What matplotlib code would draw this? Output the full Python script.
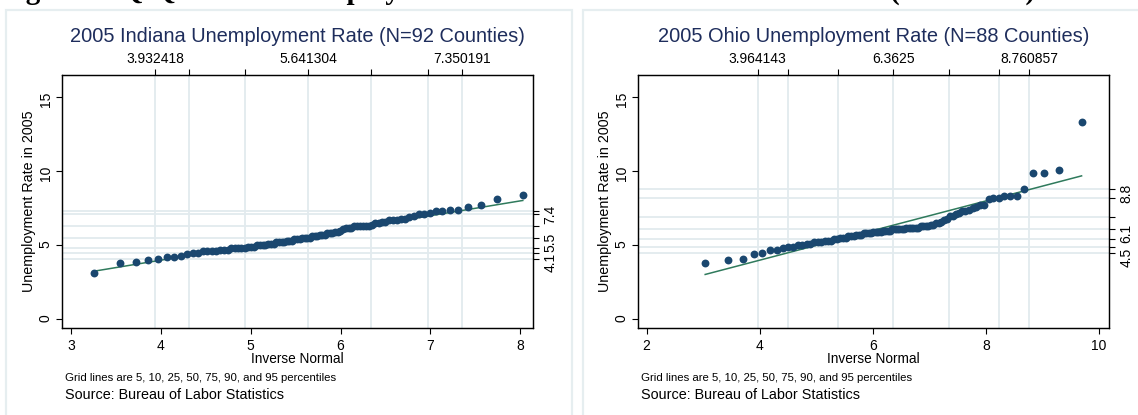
import matplotlib.pyplot as plt
from matplotlib.patches import Rectangle
from statistics import NormalDist

plt.rcParams["font.family"] = ["Liberation Sans", "DejaVu Sans"]

W, H = 1138, 415

# sorted county unemployment rates
indiana_rates = [
    3.1, 3.8, 3.9, 4.0, 4.1, 4.2, 4.2, 4.3, 4.4, 4.5,
    4.5, 4.6, 4.6, 4.6, 4.6, 4.7, 4.7, 4.7, 4.8, 4.8,
    4.8, 4.8, 4.8, 4.9, 4.9, 4.9, 5.0, 5.0, 5.0, 5.0,
    5.1, 5.1, 5.1, 5.2, 5.2, 5.2, 5.2, 5.3, 5.3, 5.3,
    5.4, 5.4, 5.4, 5.5, 5.5, 5.5, 5.5, 5.6, 5.6, 5.6,
    5.7, 5.7, 5.7, 5.8, 5.8, 5.8, 5.9, 5.9, 6.0, 6.1,
    6.2, 6.2, 6.2, 6.3, 6.3, 6.3, 6.3, 6.3, 6.3, 6.4,
    6.5, 6.5, 6.6, 6.6, 6.7, 6.7, 6.7, 6.8, 6.8, 6.9,
    7.0, 7.1, 7.1, 7.2, 7.3, 7.3, 7.4, 7.4, 7.6, 7.7,
    8.1, 8.4,
]
ohio_rates = [
    3.8, 4.0, 4.1, 4.4, 4.5, 4.7, 4.7, 4.8, 4.9, 4.9,
    5.0, 5.0, 5.1, 5.1, 5.2, 5.2, 5.2, 5.3, 5.3, 5.3,
    5.4, 5.4, 5.5, 5.5, 5.5, 5.6, 5.6, 5.6, 5.7, 5.7,
    5.7, 5.8, 5.8, 5.8, 5.8, 5.9, 5.9, 5.9, 5.9, 6.0,
    6.0, 6.0, 6.0, 6.1, 6.1, 6.1, 6.1, 6.1, 6.1, 6.2,
    6.2, 6.2, 6.2, 6.2, 6.2, 6.3, 6.3, 6.3, 6.3, 6.4,
    6.4, 6.5, 6.5, 6.6, 6.7, 6.8, 7.0, 7.0, 7.1, 7.2,
    7.3, 7.3, 7.4, 7.5, 7.6, 7.7, 7.7, 8.1, 8.2, 8.2,
    8.3, 8.3, 8.3, 8.8, 9.9, 9.9, 10.1, 13.3,
]

# mean / sd behind the inverse normal axis (from the top axis labels)
indiana_mean, indiana_sd = 5.641304, 1.038929
ohio_mean, ohio_sd = 6.3625, 1.458098

percentiles = [5, 10, 25, 50, 75, 90, 95]
# horizontal grid lines = sample percentiles
indiana_pctl = [4.1, 4.5, 4.85, 5.5, 6.3, 7.15, 7.35]
ohio_pctl = [4.5, 4.9, 5.45, 6.1, 6.9, 8.2, 8.8]

indiana_top_labels = ["3.932418", "", "", "5.641304", "", "", "7.350191"]
ohio_top_labels = ["3.964143", "", "", "6.3625", "", "", "8.760857"]
indiana_right_labels = ["4.1", "", "", "5.5", "", "", "7.4"]
ohio_right_labels = ["4.5", "", "", "6.1", "", "", "8.8"]

indiana_xticks = [3, 4, 5, 6, 7, 8]
ohio_xticks = [2, 4, 6, 8, 10]
yticks = [0, 5, 10, 15]

DOT = "#1a476f"
LINE = "#2f7a5c"
GRID = "#e2eaee"
TITLE = "#1e2d5c"
BOX = "#e6eef0"


def qq_panel(left, right, rates, mean, sd, pctl, top_labels, right_labels,
             xticks, xlim, title):
    ax = fig.add_axes([left / W, 1 - 328.3 / H, (right - left) / W, 253.3 / H])
    n = len(rates)
    nd = NormalDist(mean, sd)
    xq = [nd.inv_cdf(i / (n + 1)) for i in range(1, n + 1)]
    grid_x = [nd.inv_cdf(p / 100) for p in percentiles]

    for gx in grid_x:
        ax.axvline(gx, color=GRID, lw=1.3, zorder=1)
    for gy in pctl:
        ax.axhline(gy, color=GRID, lw=1.3, zorder=1)

    ax.plot([xq[0], xq[-1]], [xq[0], xq[-1]], color=LINE, lw=1.1, zorder=2)
    ax.scatter(xq, rates, s=32, color=DOT, linewidths=0, zorder=3)

    ax.set_xlim(xlim)
    ax.set_ylim(-0.6, 16.5)
    ax.set_xticks(xticks)
    ax.set_yticks(yticks)
    ax.tick_params(direction="out", length=4.3, width=0.8, labelsize=10,
                   pad=3.2)
    ax.tick_params(axis="y", labelrotation=90, pad=2.5)
    for s in ax.spines.values():
        s.set_linewidth(0.9)

    top = ax.twiny()
    top.set_xlim(xlim)
    top.set_xticks(grid_x)
    top.set_xticklabels(top_labels)
    top.tick_params(direction="out", length=4.3, width=0.8, labelsize=10,
                    pad=2.5)

    side = ax.twinx()
    side.set_ylim(ax.get_ylim())
    side.set_yticks(pctl)
    side.set_yticklabels(right_labels)
    side.tick_params(direction="out", length=4.3, width=0.8, labelsize=10,
                     labelrotation=90, pad=3.5)

    ax.text(-0.07, 0.5, "Unemployment Rate in 2005", transform=ax.transAxes,
            rotation=90, ha="center", va="center", fontsize=10.3)
    ax.text(0.5, -0.1224, "Inverse Normal", transform=ax.transAxes,
            ha="center", va="center", fontsize=9.8)

    cx = (left + right) / 2 / W
    fig.text(cx, 1 - 36 / H, title, ha="center", va="center",
             fontsize=14.4, color=TITLE)
    fig.text((left + 3) / W, 1 - 378.3 / H,
             "Grid lines are 5, 10, 25, 50, 75, 90, and 95 percentiles",
             ha="left", va="center", fontsize=8.2)
    fig.text((left + 3) / W, 1 - 395 / H, "Source: Bureau of Labor Statistics",
             ha="left", va="center", fontsize=10.4)
    return ax


fig = plt.figure(figsize=(W / 100, H / 100), dpi=100)
fig.patch.set_facecolor("white")

# light panel outlines (they run off the bottom edge)
fig.patches.append(Rectangle((6 / W, -0.05), 566 / W, 1.05 - 10 / H,
                             transform=fig.transFigure, fill=False,
                             edgecolor=BOX, lw=1.6))
fig.patches.append(Rectangle((583 / W, -0.05), 560 / W, 1.05 - 10 / H,
                             transform=fig.transFigure, fill=False,
                             edgecolor=BOX, lw=1.6))

qq_panel(62, 532.5, indiana_rates, indiana_mean, indiana_sd, indiana_pctl,
         indiana_top_labels, indiana_right_labels, indiana_xticks,
         (2.898, 8.138), "2005 Indiana Unemployment Rate (N=92 Counties)")
qq_panel(638.2, 1108.7, ohio_rates, ohio_mean, ohio_sd, ohio_pctl,
         ohio_top_labels, ohio_right_labels, ohio_xticks,
         (1.85, 10.17), "2005 Ohio Unemployment Rate (N=88 Counties)")

# the page caption above, mostly cut off by the crop
fig.text(0.0, 1 + 1 / H,
         "Figure 2: Q-Q Plot of Unemployment Rate: Indiana and Ohio Counties (2005 Data)",
         ha="left", va="baseline", fontsize=21, fontweight="bold",
         family=["Liberation Serif", "DejaVu Serif"])

fig.savefig("out.png", dpi=100)
